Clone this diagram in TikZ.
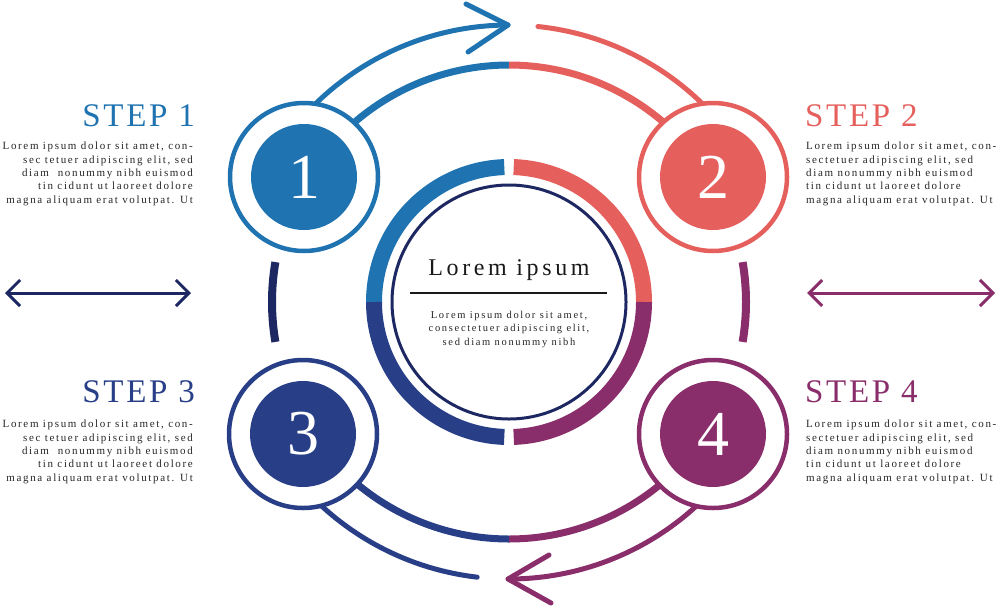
\documentclass[tikz,border=0pt]{standalone}
\usepackage{fontspec}
\setmainfont{Liberation Serif}
\newfontfamily\parafont[LetterSpace=15]{Liberation Serif}
\newfontfamily\bodyfont[LetterSpace=16]{Liberation Serif}
\newfontfamily\headfont[LetterSpace=8]{Liberation Serif}
\newfontfamily\titlefont[LetterSpace=15]{Liberation Serif}
\usetikzlibrary{arrows.meta}
\definecolor{cblue}{HTML}{1F73B1}
\definecolor{ccoral}{HTML}{E5605D}
\definecolor{cnavy}{HTML}{283F87}
\definecolor{cpurple}{HTML}{8A2E6B}
\definecolor{cdark}{HTML}{1D2862}
\definecolor{ctext}{HTML}{262626}
\newcommand\ringpath[3]{plot[domain=#1:#2,samples=80,variable=\t] ({509+#3*cos(\t)},{302+#3*sin(\t)})}
\begin{document}
\begin{tikzpicture}[x=1pt,y=-1pt,
  thickarc/.style={line width=7pt},
  innerarc/.style={line width=16pt},
  thinarc/.style={line width=5pt,line cap=round,line join=round},
  stepring/.style={line width=4.5pt,fill=white},
  disc/.style={circle,minimum size=106pt,inner sep=0pt,text=white,font=\fontsize{64}{64}\selectfont},
  headtext/.style={inner sep=0pt,font=\headfont\fontsize{33}{33}\selectfont},
  para/.style={inner sep=0pt,text=ctext,font=\parafont\fontsize{11}{13.3}\selectfont},
  dbl/.style={line width=3pt,{Straight Barb[length=13pt,width=26pt]}-{Straight Barb[length=13pt,width=26pt]}}
]
\useasboundingbox (0,0) rectangle (1000,608);
\coordinate (C) at (509,302);
% outer thick ring
\draw[thickarc,cblue] \ringpath{-152}{-90}{237};
\draw[thickarc,ccoral] \ringpath{-90}{-28}{237};
\draw[thickarc,cpurple] \ringpath{28}{90}{237};
\draw[thickarc,cnavy] \ringpath{90}{152}{237};
\draw[line width=8pt,cdark] \ringpath{170.3}{189.7}{237};
\draw[line width=8pt,cpurple] \ringpath{-9.7}{9.7}{237};
% thin outer arcs with arrows
\coordinate (tipT) at ({509+277*cos(-90.2)},{302+277*sin(-90.2)});
\coordinate (tipB) at ({509+277*cos(90.2)},{302+277*sin(90.2)});
\draw[thinarc,cblue] \ringpath{-142}{-90.2}{277};
\draw[thinarc,cblue] (466,4) -- (tipT) -- (468,52);
\draw[thinarc,ccoral] \ringpath{-84}{-38}{277};
\draw[thinarc,cnavy] \ringpath{96.6}{142}{277};
\draw[thinarc,cpurple] \ringpath{38}{90.2}{277};
\draw[thinarc,cpurple] (549,555) -- (tipB) -- (551,603);
% inner ring
\draw[innerarc,cblue] \ringpath{180}{268}{135};
\draw[innerarc,ccoral] \ringpath{-88}{0}{135};
\draw[innerarc,cpurple] \ringpath{0}{88}{135};
\draw[innerarc,cnavy] \ringpath{92}{180}{135};
\draw[line width=3pt,cdark] (C) circle[radius=117];
% center text
\node[inner sep=0pt,anchor=base,text=black!90,font=\titlefont\fontsize{24}{24}\selectfont] (title) at (509,275) {Lorem ipsum};
\coordinate (hl) at (410,293);
\coordinate (hr) at (607,293);
\draw[line width=2pt,black!90] (hl) -- (hr);
\node[inner sep=0pt,anchor=north,align=center,text=ctext,font=\bodyfont\fontsize{10.5}{13.5}\selectfont] (body) at (509,311) {Lorem ipsum dolor sit amet,\\consectetuer adipiscing elit,\\sed diam nonummy nibh};
% step circles
\coordinate (p1) at (304,177);
\coordinate (p2) at (713,177);
\coordinate (p3) at (303,434);
\coordinate (p4) at (713,434);
\draw[stepring,draw=cblue] (p1) circle[radius=74];
\draw[stepring,draw=ccoral] (p2) circle[radius=74];
\draw[stepring,draw=cnavy] (p3) circle[radius=74];
\draw[stepring,draw=cpurple] (p4) circle[radius=74];
\node[disc,fill=cblue] (s1) at (p1) {1};
\node[disc,fill=ccoral] (s2) at (p2) {2};
\node[disc,fill=cnavy] (s3) at (p3) {3};
\node[disc,fill=cpurple] (s4) at (p4) {4};
% side arrows
\coordinate (la) at (5,293);
\coordinate (lb) at (191,293);
\coordinate (ra) at (807,293);
\coordinate (rb) at (995,293);
\draw[dbl,cdark] (la) -- (lb);
\draw[dbl,cpurple] (ra) -- (rb);
% headings
\node[headtext,text=cblue,anchor=base east] (h1) at (195,126) {STEP 1};
\node[headtext,text=ccoral,anchor=base west] (h2) at (805,126) {STEP 2};
\node[headtext,text=cnavy,anchor=base east] (h3) at (195,402) {STEP 3};
\node[headtext,text=cpurple,anchor=base west] (h4) at (805,402) {STEP 4};
% paragraphs
\node[para,anchor=north east,align=right] (t1) at (193,142) {Lorem ipsum dolor sit amet, con-\\sec tetuer adipiscing elit, sed\\diam\ \ nonummy nibh euismod\\tin cidunt ut laoreet dolore\\magna aliquam erat volutpat. Ut};
\node[para,anchor=north west,align=left] (t2) at (806,142) {Lorem ipsum dolor sit amet, con-\\sectetuer adipiscing elit, sed\\diam nonummy nibh euismod\\tin cidunt ut laoreet dolore\\magna aliquam erat volutpat. Ut};
\node[para,anchor=north east,align=right] (t3) at (193,420) {Lorem ipsum dolor sit amet, con-\\sec tetuer adipiscing elit, sed\\diam\ \ nonummy nibh euismod\\tin cidunt ut laoreet dolore\\magna aliquam erat volutpat. Ut};
\node[para,anchor=north west,align=left] (t4) at (806,420) {Lorem ipsum dolor sit amet, con-\\sectetuer adipiscing elit, sed\\diam nonummy nibh euismod\\tin cidunt ut laoreet dolore\\magna aliquam erat volutpat. Ut};
\end{tikzpicture}
\end{document}
